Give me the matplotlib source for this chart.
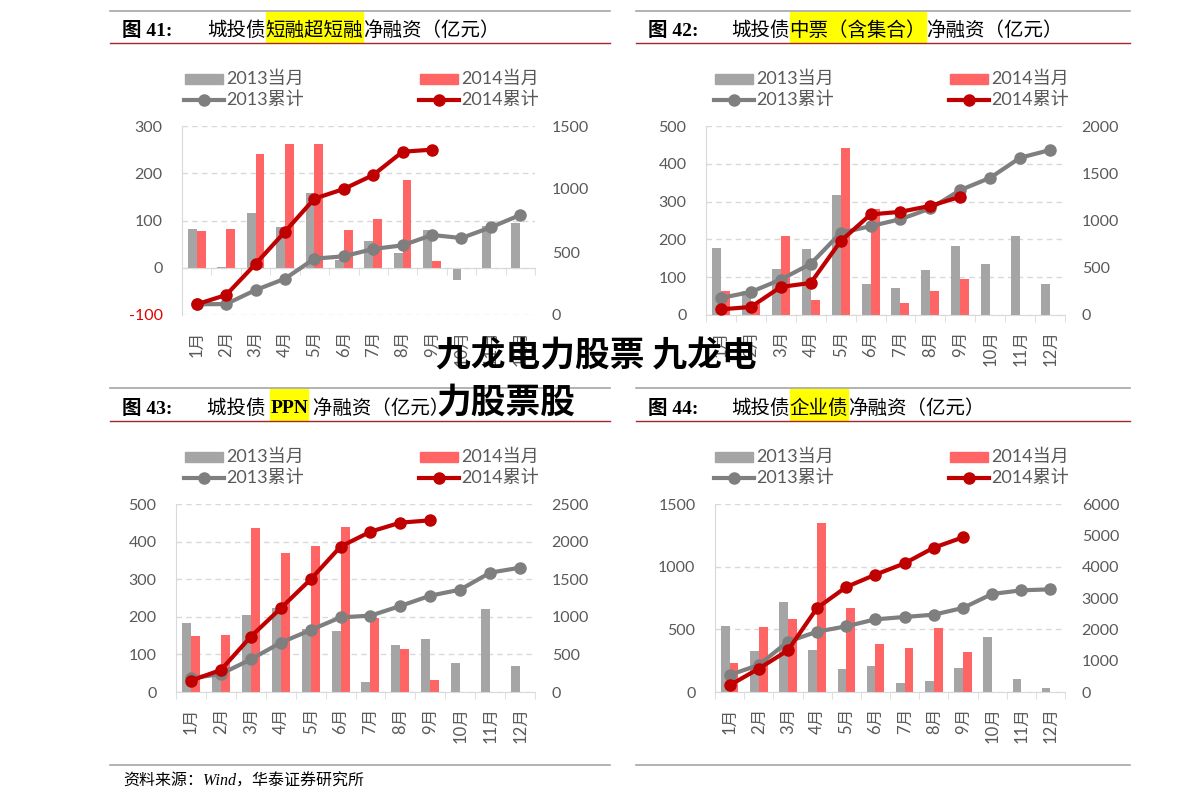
import numpy as np
import matplotlib
matplotlib.use("Agg")
import matplotlib.pyplot as plt
from matplotlib.patches import Rectangle
from matplotlib.lines import Line2D
import matplotlib.transforms as mtransforms

plt.rcParams["font.family"] = ["Lato", "Noto Sans CJK SC", "DejaVu Sans"]
plt.rcParams["axes.unicode_minus"] = False

# ---- 数据 ----
months = ["1月", "2月", "3月", "4月", "5月", "6月", "7月", "8月", "9月", "10月", "11月", "12月"]

# 图41 短融超短融
p41_13_m = [83, 2, 115, 87, 158, 16, 56, 32, 80, -25, 88, 95]
p41_14_m = [78, 82, 240, 261, 261, 80, 104, 186, 15]
p41_13_c = [85, 87, 198, 288, 447, 466, 524, 553, 635, 611, 696, 794]
p41_14_c = [85, 159, 405, 661, 923, 1000, 1111, 1296, 1312]

# 图42 中票（含集合）
p42_13_m = [176, 64, 122, 175, 317, 81, 71, 119, 183, 134, 209, 81]
p42_14_m = [63, 28, 210, 39, 441, 280, 32, 64, 95]
p42_13_c = [180, 244, 375, 541, 869, 940, 1014, 1127, 1322, 1452, 1664, 1746]
p42_14_c = [60, 85, 297, 339, 781, 1064, 1092, 1155, 1251]

# 图43 PPN
p43_13_m = [183, 50, 205, 224, 168, 162, 26, 124, 141, 77, 221, 69]
p43_14_m = [150, 152, 436, 370, 387, 440, 197, 115, 32]
p43_13_c = [183, 239, 434, 656, 824, 993, 1015, 1144, 1281, 1361, 1587, 1653]
p43_14_c = [151, 293, 736, 1113, 1498, 1933, 2132, 2252, 2283]

# 图44 企业债
p44_13_m = [524, 330, 721, 335, 181, 207, 74, 88, 194, 441, 106, 35]
p44_14_m = [234, 516, 582, 1351, 670, 383, 351, 511, 319]
p44_13_c = [543, 862, 1606, 1926, 2096, 2319, 2394, 2468, 2681, 3128, 3245, 3277]
p44_14_c = [213, 745, 1330, 2681, 3351, 3745, 4106, 4606, 4936]

legend_labels = ["2013当月", "2013累计", "2014当月", "2014累计"]

# ---- 样式 ----
W, H = 1191, 811
BAR13, BAR14 = "#A5A5A5", "#FF6565"
LINE13, LINE14 = "#7F7F7F", "#C00000"
TXT = "#595959"
GRID = "#D9D9D9"
CJK_SERIF = ["Liberation Serif", "Noto Sans CJK SC"]
TICK_FS = 11.5


def fx(px):
    return px / W


def fy(py):
    return 1 - py / H


fig = plt.figure(figsize=(W / 100, H / 100), dpi=100)
renderer = fig.canvas.get_renderer()


def draw_panel(rect, m13, m14, c13, c14, ylim, yticks, y2lim, y2ticks):
    left, top, right, bottom = rect
    ax = fig.add_axes([fx(left), fy(bottom), (right - left) / W, (bottom - top) / H])
    x = np.arange(len(months))
    ax.bar(x[:len(m13)] - 0.15, m13, width=0.3, color=BAR13, zorder=2)
    ax.bar(x[:len(m14)] + 0.15, m14, width=0.3, color=BAR14, zorder=2)
    ax.set_xlim(-0.5, len(months) - 0.5)
    ax.set_ylim(*ylim)
    ax.set_yticks(yticks)
    ax.grid(axis="y", ls=(0, (4, 3)), color=GRID, lw=1)
    ax.set_axisbelow(True)
    for s in ("top", "right"):
        ax.spines[s].set_visible(False)
    ax.spines["left"].set_color(GRID)
    ax.spines["bottom"].set_color(GRID)
    ax.spines["bottom"].set_position(("data", 0))
    ax.set_xticks(x)
    ax.set_xticks(np.arange(-0.5, len(months)), minor=True)
    ax.tick_params(axis="x", which="major", length=0, labelbottom=False)
    ax.tick_params(axis="x", which="minor", length=5, color=GRID, direction="out")
    ax.tick_params(axis="y", length=0, pad=14, labelsize=TICK_FS, labelcolor=TXT)
    for t, v in zip(ax.get_yticklabels(), yticks):
        if v < 0:
            t.set_color("#E00000")
    trans = mtransforms.blended_transform_factory(ax.transData, ax.transAxes)
    off = mtransforms.offset_copy(trans, fig=fig, y=-11, units="points")
    for i, m in enumerate(months):
        ax.text(i, 0, m, transform=off, rotation=90, ha="center", va="top",
                fontsize=TICK_FS + 0.5, color=TXT)

    ax2 = ax.twinx()
    ax2.plot(x[:len(c13)], c13, color=LINE13, lw=3, marker="o", ms=8, zorder=3)
    ax2.plot(x[:len(c14)], c14, color=LINE14, lw=3, marker="o", ms=8, zorder=4)
    ax2.set_ylim(*y2lim)
    ax2.set_yticks(y2ticks)
    for s in ax2.spines.values():
        s.set_visible(False)
    ax2.tick_params(axis="y", length=0, pad=12, labelsize=TICK_FS, labelcolor=TXT)
    return ax


def draw_legend(x0, col2, y1, y2):
    for xs, (lab_bar, lab_line), cb, cl in [
        (x0, (legend_labels[0], legend_labels[1]), BAR13, LINE13),
        (col2, (legend_labels[2], legend_labels[3]), BAR14, LINE14),
    ]:
        fig.add_artist(Rectangle((fx(xs), fy(y1 + 5)), 38 / W, 10 / H,
                                 color=cb, transform=fig.transFigure))
        fig.add_artist(Line2D([fx(xs - 1), fx(xs + 39)], [fy(y2), fy(y2)], color=cl,
                              lw=3, transform=fig.transFigure))
        fig.add_artist(Line2D([fx(xs + 19)], [fy(y2)], color=cl, marker="o", ms=8,
                              transform=fig.transFigure))
        fig.text(fx(xs + 41), fy(y1), lab_bar, fontsize=13, color=TXT, va="center")
        fig.text(fx(xs + 41), fy(y2), lab_line, fontsize=13, color=TXT, va="center")


def draw_header(x_line0, x_line1, y_gray, y_red, x_num, x_title, num, pre, hl, suf,
                hl_family=None):
    fig.add_artist(Line2D([fx(x_line0), fx(x_line1)], [fy(y_gray)] * 2, color="#A6A6A6",
                          lw=1.2, transform=fig.transFigure))
    fig.add_artist(Line2D([fx(x_line0), fx(x_line1)], [fy(y_red)] * 2, color="#A0282C",
                          lw=1.0, transform=fig.transFigure))
    yc = fy((y_gray + y_red) / 2 + 4)
    fig.text(fx(x_num), yc, num, family=CJK_SERIF, weight="bold", fontsize=14, va="center")
    t1 = fig.text(fx(x_title), yc, pre, family=CJK_SERIF, fontsize=14, va="center")
    x1 = t1.get_window_extent(renderer).x1
    t2 = fig.text(x1 / W, yc, hl, family=hl_family or CJK_SERIF, fontsize=14, va="center",
                  weight="bold" if hl_family else "normal", zorder=3)
    bb = t2.get_window_extent(renderer)
    fig.add_artist(Rectangle((bb.x0 / W, fy(y_red - 1)), bb.width / W, (y_red - y_gray - 2) / H,
                             color="#FFFF00", transform=fig.transFigure, zorder=1))
    fig.text(bb.x1 / W, yc, suf, family=CJK_SERIF, fontsize=14, va="center")


# ---- 四个子图 ----
draw_panel((182, 126, 535, 315), p41_13_m, p41_14_m, p41_13_c, p41_14_c,
           (-100, 300), [-100, 0, 100, 200, 300], (0, 1500), [0, 500, 1000, 1500])
draw_panel((706, 126, 1065, 315), p42_13_m, p42_14_m, p42_13_c, p42_14_c,
           (0, 500), [0, 100, 200, 300, 400, 500], (0, 2000), [0, 500, 1000, 1500, 2000])
draw_panel((176, 504, 535, 692), p43_13_m, p43_14_m, p43_13_c, p43_14_c,
           (0, 500), [0, 100, 200, 300, 400, 500], (0, 2500), [0, 500, 1000, 1500, 2000, 2500])
draw_panel((715, 504, 1065, 692), p44_13_m, p44_14_m, p44_13_c, p44_14_c,
           (0, 1500), [0, 500, 1000, 1500], (0, 6000), [0, 1000, 2000, 3000, 4000, 5000, 6000])

draw_legend(185, 420, 79, 100)
draw_legend(715, 950, 79, 100)
draw_legend(185, 420, 457, 478)
draw_legend(715, 950, 457, 478)

draw_header(110, 610, 11, 43, 122, 207, "图 41:", "城投债", "短融超短融", "净融资（亿元）")
draw_header(636, 1130, 11, 43, 648, 731, "图 42:", "城投债", "中票（含集合）", "净融资（亿元）")
draw_header(110, 610, 388, 421, 122, 207, "图 43:", "城投债 ", "PPN", " 净融资（亿元）",
            hl_family=["Liberation Serif"])
draw_header(636, 1130, 388, 421, 648, 731, "图 44:", "城投债", "企业债", "净融资（亿元）")

# 页脚
for a, b in [(110, 610), (636, 1130)]:
    fig.add_artist(Line2D([fx(a), fx(b)], [fy(765)] * 2, color="#A6A6A6", lw=1.2,
                          transform=fig.transFigure))
fig.text(fx(123), fy(782), "资料来源：Wind，华泰证券研究所", family=CJK_SERIF,
         style="italic", fontsize=11.5, va="center")

# 水印
fig.text(fx(436), fy(356), "九龙电力股票 九龙电", family=["Noto Sans CJK SC"],
         weight="heavy", fontsize=25, va="center", zorder=10)
fig.text(fx(436), fy(402), "力股票股", family=["Noto Sans CJK SC"],
         weight="heavy", fontsize=25, va="center", zorder=10)

fig.savefig("out.png", dpi=100)
